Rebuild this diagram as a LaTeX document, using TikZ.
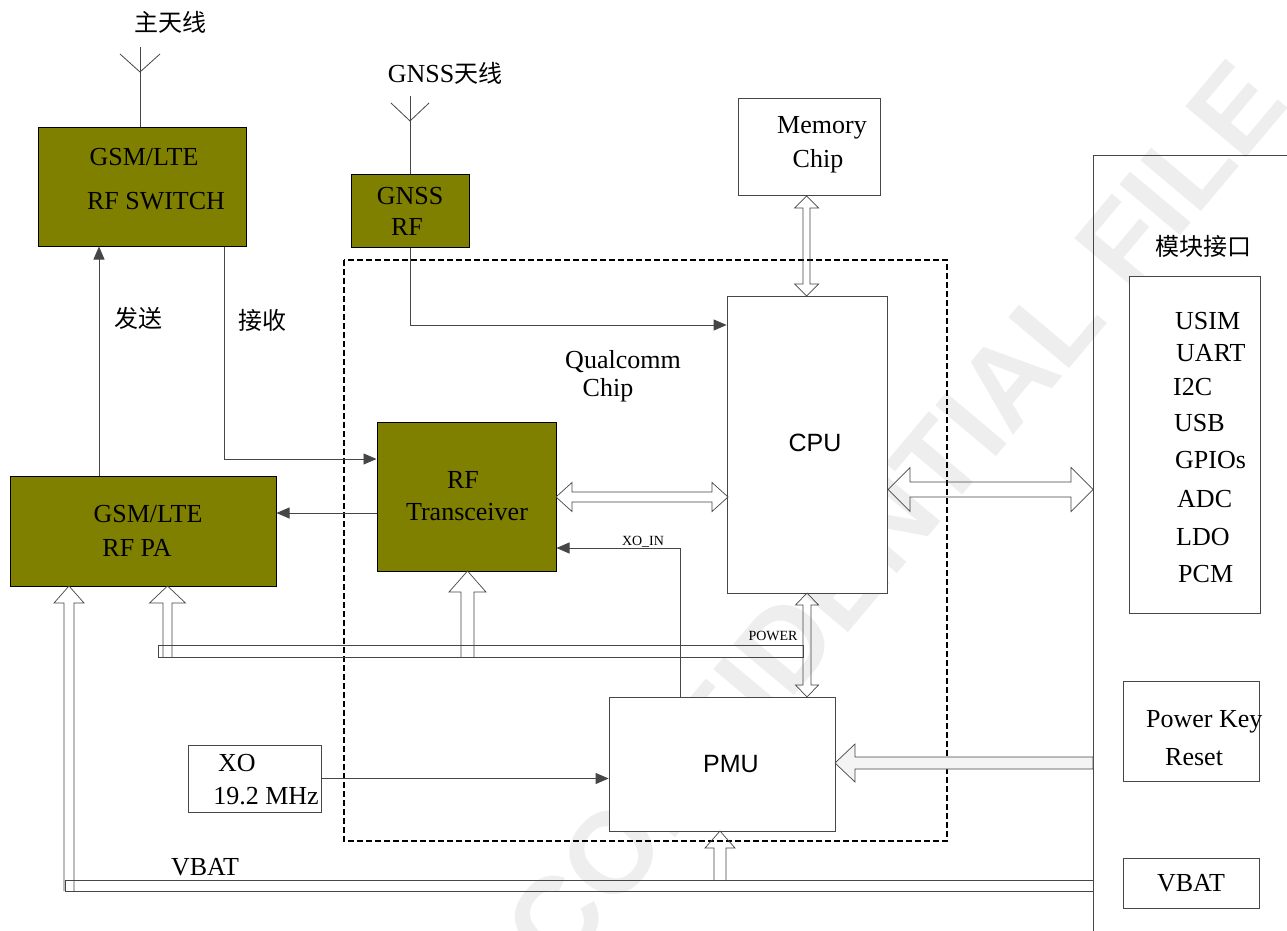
\documentclass[tikz,border=0pt]{standalone}
\usepackage{fontspec}
\setmainfont{Liberation Serif}
\setsansfont{Liberation Sans}
\newfontfamily\cjk{Noto Sans CJK SC}
\usetikzlibrary{arrows.meta}

\definecolor{chipolive}{RGB}{128,128,0}
\definecolor{linegray}{RGB}{70,70,70}
\definecolor{keygray}{RGB}{244,244,244}

% hollow arrows: numbers in pixels
\newcommand{\hollowup}[6]{% x, y tail, y tip, half shaft, half head, head length
  \draw[hollow] (#1-#4,#2) -- (#1-#4,#3+#6) -- (#1-#5,#3+#6) -- (#1,#3) -- (#1+#5,#3+#6) -- (#1+#4,#3+#6) -- (#1+#4,#2);}
\newcommand{\hollowvv}[6]{% x, y top tip, y bottom tip, half shaft, half head, head length
  \draw[hollow] (#1,#2) -- (#1+#5,#2+#6) -- (#1+#4,#2+#6) -- (#1+#4,#3-#6) -- (#1+#5,#3-#6) -- (#1,#3)
    -- (#1-#5,#3-#6) -- (#1-#4,#3-#6) -- (#1-#4,#2+#6) -- (#1-#5,#2+#6) -- cycle;}
\newcommand{\hollowhh}[6]{% y, x left tip, x right tip, half shaft, half head, head length
  \draw[hollow] (#2,#1) -- (#2+#6,#1-#5) -- (#2+#6,#1-#4) -- (#3-#6,#1-#4) -- (#3-#6,#1-#5) -- (#3,#1)
    -- (#3-#6,#1+#5) -- (#3-#6,#1+#4) -- (#2+#6,#1+#4) -- (#2+#6,#1+#5) -- cycle;}
\newcommand{\hollowleft}[6]{% y, x tip, x tail, half shaft, half head, head length
  \draw[hollow,fill=keygray] (#2,#1) -- (#2+#6,#1-#5) -- (#2+#6,#1-#4) -- (#3,#1-#4) -- (#3,#1+#4)
    -- (#2+#6,#1+#4) -- (#2+#6,#1+#5) -- cycle;}

\begin{document}
\begin{tikzpicture}[x=1pt,y=-1pt,
  olivebox/.style={draw=black,line width=1pt,fill=chipolive,inner sep=0pt},
  whitebox/.style={draw=linegray,line width=0.8pt,fill=white,inner sep=0pt},
  txt/.style={inner sep=0pt,font=\fontsize{26}{30}\selectfont},
  cjktxt/.style={inner sep=0pt,font=\cjk\fontsize{24}{28}\selectfont},
  sanstxt/.style={inner sep=0pt,font=\sffamily\fontsize{25}{30}\selectfont},
  smalltxt/.style={inner sep=0pt,font=\fontsize{14}{16}\selectfont},
  conn/.style={draw=linegray,line width=0.8pt,-{Triangle[length=13pt,width=11pt]}},
  wire/.style={draw=linegray,line width=0.8pt},
  hollow/.style={draw=linegray,line width=0.7pt,line join=miter},
  bus/.style={draw=linegray,line width=0.8pt}]
  \clip (0,0) rectangle (1287,931);
  \fill[white] (0,0) rectangle (1287,931);
  \node[rotate=50,text=gray!13,font=\sffamily\bfseries\fontsize{115}{120}\selectfont] (wm) at (895,515) {CONFIDENTIAL FILE};

  \draw[dashed,line width=1.2pt,dash pattern=on 6pt off 3pt] (344,260) rectangle (947,841);
  \draw[wire] (1093,155) rectangle (1300,945);

  \node[olivebox,minimum width=208,minimum height=118] (sw) at (142,187) {};
  \node[olivebox,minimum width=118,minimum height=73] (gnss) at (410,210.5) {};
  \node[olivebox,minimum width=266,minimum height=110] (pa) at (143,531) {};
  \node[olivebox,minimum width=179,minimum height=149] (rftr) at (466.5,496.5) {};
  \node[whitebox,minimum width=142,minimum height=97] (mem) at (809,146.5) {};
  \node[whitebox,minimum width=160,minimum height=297] (cpu) at (807,444.5) {};
  \node[whitebox,minimum width=226,minimum height=134] (pmu) at (722,764) {};
  \node[whitebox,minimum width=133,minimum height=67] (xo) at (254.5,778.5) {};
  \node[whitebox,minimum width=131,minimum height=337] (ports) at (1194.5,444.5) {};
  \node[whitebox,minimum width=136,minimum height=100] (pkey) at (1191,731) {};
  \node[whitebox,minimum width=136,minimum height=50] (vbatbox) at (1191,883) {};

  \coordinate (ant1) at (140,47);
  \coordinate (ant2) at (410,96);
  \draw[wire] (ant1 |- sw.north) -- (ant1);
  \draw[wire] (120,54) -- (140,72) -- (160,54);
  \draw[wire] (gnss.north) -- (ant2);
  \draw[wire] (391,103) -- (410,121) -- (429,103);

  \coordinate (gturn) at (410,325);
  \coordinate (rx) at (224,459);
  \coordinate (tx) at (300,513);
  \coordinate (snd) at (99,400);
  \coordinate (xoin) at (680,548);
  \draw[conn] (gnss.south) -- (gturn) -- (gturn -| cpu.west);
  \draw[conn] (rx |- sw.south) -- (rx) -- (rx -| rftr.west);
  \draw[conn] (tx -| rftr.west) -- (tx -| pa.east);
  \draw[conn] (snd |- pa.north) -- (snd |- sw.south);
  \draw[conn] (xoin |- pmu.north) -- (xoin) -- (xoin -| rftr.east);
  \draw[conn] (xo.east) -- (xo.east -| pmu.west);

  \draw[bus] (158,645) rectangle (803,657);
  \draw[bus] (65,880) rectangle (1093,891);
  \hollowhh{497}{556}{728}{5}{14.5}{16}
  \hollowhh{489.5}{888}{1093}{7.5}{22}{22}
  \hollowvv{806.5}{196}{296}{3.5}{12}{12}
  \hollowvv{807}{593}{697}{4}{11.5}{12}
  \hollowleft{763}{835}{1093}{6}{19}{20}
  \hollowup{69}{891}{586}{5}{15}{17}
  \hollowup{167.5}{657}{586}{4.5}{18}{17}
  \hollowup{467.5}{657}{571}{6.5}{18.5}{21}
  \hollowup{720}{880}{831}{6}{15}{17}

  \node[cjktxt] (ant1lbl) at (170,22) {主天线};
  \node[txt] (ant2lbl) at (445,73) {GNSS{\cjk\fontsize{24}{28}\selectfont 天线}};
  \node[txt] at (144,157) {GSM/LTE};
  \node[txt] at (156,201) {RF SWITCH};
  \node[txt] at (410,196) {GNSS};
  \node[txt] at (407,227) {RF};
  \node[txt] at (822,128) {Memory};
  \node[txt] at (818,161) {Chip};
  \node[txt] at (623,362) {Qualcomm};
  \node[txt] at (608,390) {Chip};
  \node[sanstxt] at (815,443) {CPU};
  \node[txt] at (463,480) {RF};
  \node[txt] at (467,512) {Transceiver};
  \node[cjktxt] at (138,318) {发送};
  \node[cjktxt] at (262,320) {接收};
  \node[txt] at (148,514) {GSM/LTE};
  \node[txt] at (137,548) {RF PA};
  \node[smalltxt,anchor=base] at (643,545) {XO\_IN};
  \node[smalltxt,anchor=base] at (773,640) {POWER};
  \node[txt] at (237,763) {XO};
  \node[txt] at (266,796) {19.2 MHz};
  \node[sanstxt] at (731,764) {PMU};
  \node[txt] at (205,867) {VBAT};
  \node[cjktxt] at (1203,246) {模块接口};
  \node[txt,anchor=west] at (1175,321) {USIM};
  \node[txt,anchor=west] at (1176,353) {UART};
  \node[txt,anchor=west] at (1173,387) {I2C};
  \node[txt,anchor=west] at (1174,423) {USB};
  \node[txt,anchor=west] at (1175,460) {GPIOs};
  \node[txt,anchor=west] at (1177,499) {ADC};
  \node[txt,anchor=west] at (1176,537) {LDO};
  \node[txt,anchor=west] at (1178,574) {PCM};
  \node[txt,anchor=west] at (1146,722) {Power Key};
  \node[txt,anchor=west] at (1165,757) {Reset};
  \node[txt] at (1191,883) {VBAT};
\end{tikzpicture}
\end{document}
